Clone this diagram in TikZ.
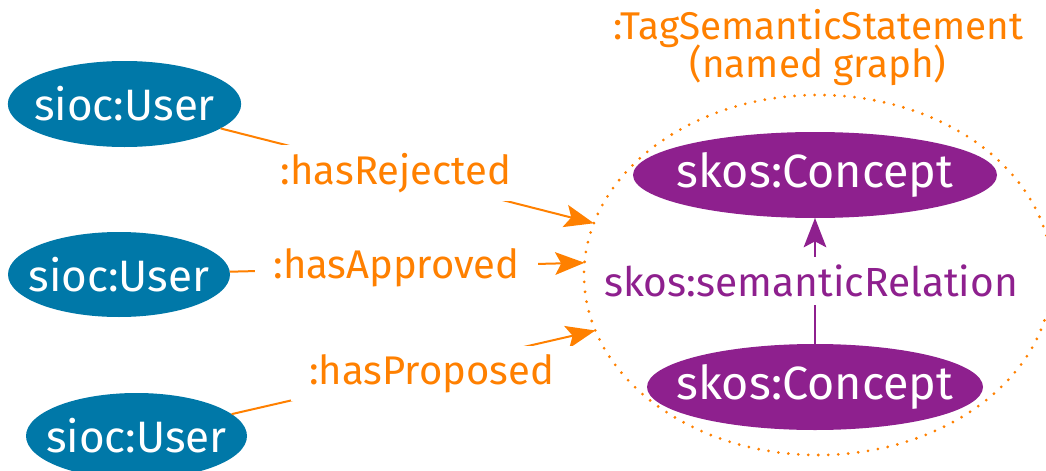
\documentclass[tikz,border=0pt]{standalone}
\usepackage{fontspec}
\setmainfont{Fira Sans}
\usepackage{tikz}
\usetikzlibrary{arrows.meta,positioning,shapes.geometric}
\definecolor{userblue}{RGB}{0,120,168}
\definecolor{skospurple}{RGB}{142,32,142}
\definecolor{graphorange}{RGB}{255,128,0}

\begin{document}
\begin{tikzpicture}[
  x=0.75pt, y=-0.75pt,
  font=\fontsize{30}{36}\selectfont,
  user/.style={ellipse, fill=userblue, text=white, inner xsep=-15pt, inner ysep=0pt,
    outer sep=0pt, font=\fontsize{33}{38}\selectfont},
  concept/.style={ellipse, fill=skospurple, text=white, inner xsep=-25pt, inner ysep=0pt,
    outer sep=0pt, font=\fontsize{35}{40}\selectfont},
  lbl/.style={fill=white, inner xsep=14pt, inner ysep=6pt},
  arr/.style={-{Stealth[length=22pt, width=17pt, inset=4.5pt]}, line width=1.5pt}
]
\useasboundingbox (0,0) rectangle (1046,471);

% --- named graph: dotted boundary + title ---
\node[ellipse, draw=graphorange, line width=2.3pt, dash pattern=on 0pt off 7.5pt,
      line cap=round, minimum width=351pt, minimum height=270pt,
      inner sep=0pt, outer sep=0pt] (graph) at (818,275) {};
\node[above=6pt of graph, text=graphorange, align=center, inner sep=1pt,
      font=\fontsize{29}{34}\selectfont] (title)
  {:TagSemanticStatement\\[-6pt](named graph)};

% --- concepts inside the graph ---
\node[concept, minimum width=273pt, minimum height=64.5pt] (ct) at (815,175) {skos:Concept};
\node[concept, minimum width=252pt, minimum height=64.5pt] (cb) at (815,387) {skos:Concept};

% --- users on the left ---
\node[user, minimum width=175pt, minimum height=64.5pt] (u1) at (124.5,104) {sioc:User};
\node[user, minimum width=166.5pt, minimum height=63.75pt] (u2) at (119,274.5) {sioc:User};
\node[user, minimum width=165.75pt, minimum height=64.5pt] (u3) at (136.5,436) {sioc:User};

\draw[arr, graphorange] (u1) -- node[lbl, pos=0.47, text=graphorange] {:hasRejected} (graph.167);
\draw[arr, graphorange] (u2) -- node[lbl, pos=0.47, text=graphorange] {:hasApproved} (graph.177);
\draw[arr, graphorange] (u3) -- node[lbl, pos=0.55, yshift=-4pt, text=graphorange] {:hasProposed} (graph.194);
\draw[arr, skospurple] (cb) -- node[lbl, inner xsep=2pt, xshift=-3pt, text=skospurple,
  font=\fontsize{30.5}{36}\selectfont] {skos:semanticRelation} (ct);
\end{tikzpicture}
\end{document}
